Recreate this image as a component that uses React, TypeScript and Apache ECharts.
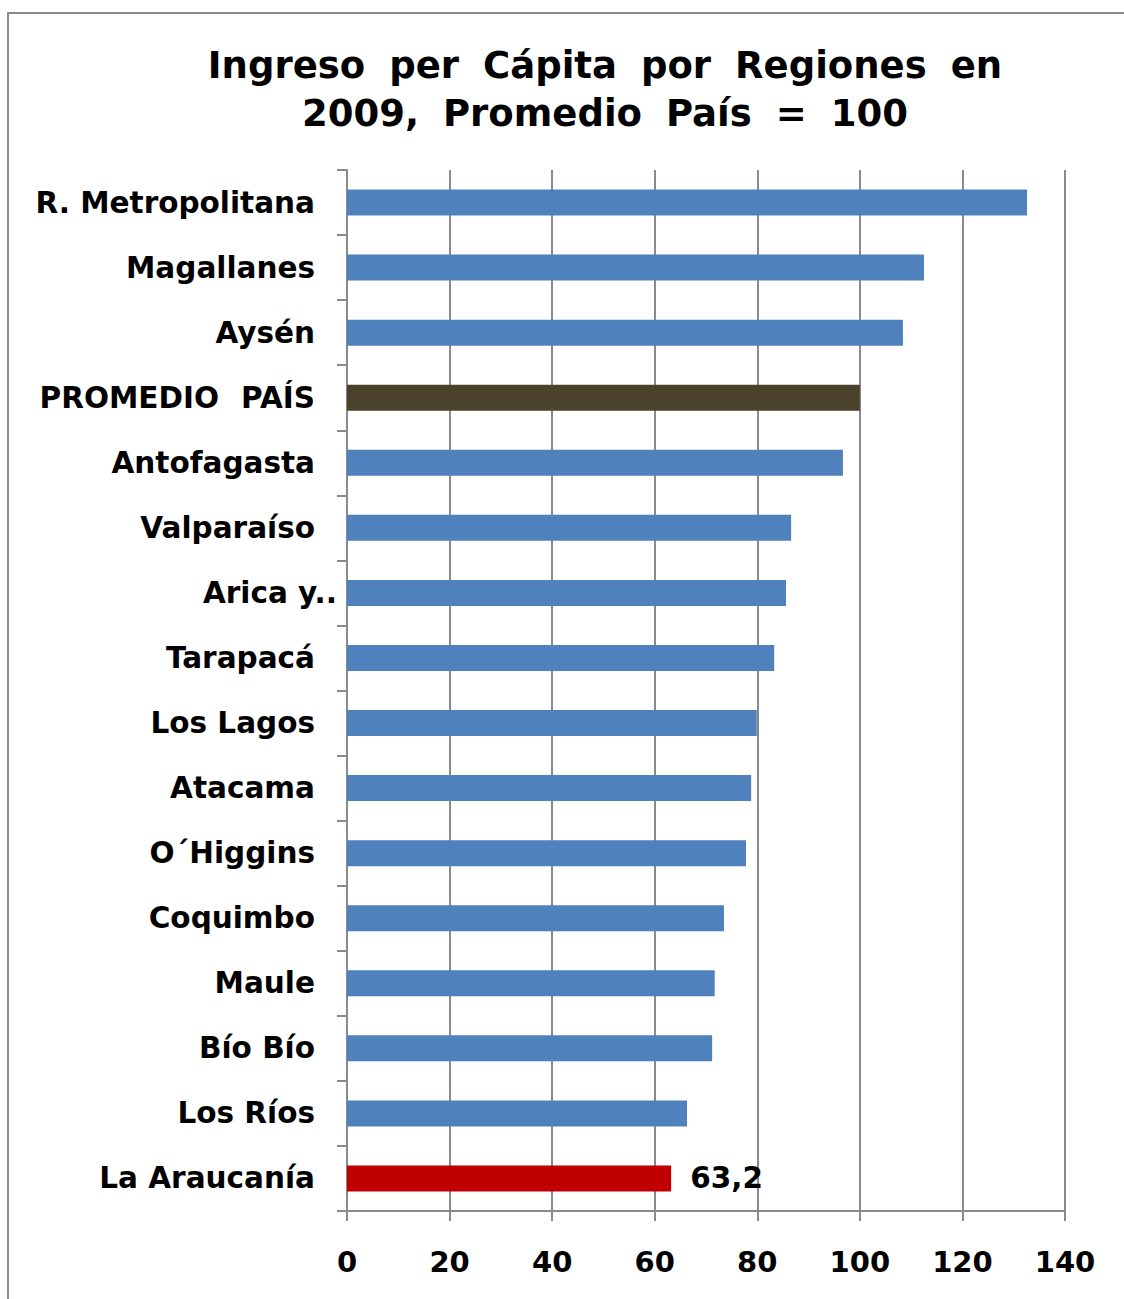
import React, { useEffect, useRef } from "react";
import * as echarts from "echarts";

const titleLines = ["Ingreso per Cápita por Regiones en", "2009, Promedio País = 100"];
const regions = [
  "R. Metropolitana",
  "Magallanes",
  "Aysén",
  "PROMEDIO PAÍS",
  "Antofagasta",
  "Valparaíso",
  "Arica y..",
  "Tarapacá",
  "Los Lagos",
  "Atacama",
  "O´Higgins",
  "Coquimbo",
  "Maule",
  "Bío Bío",
  "Los Ríos",
  "La Araucanía",
];
const values = [132.6, 112.5, 108.4, 100, 96.7, 86.6, 85.6, 83.3, 79.9, 78.8, 77.8, 73.5, 71.7, 71.2, 66.3, 63.2];
const labelledRegions = ["La Araucanía"];
const xTicks = { min: 0, max: 140, interval: 20 };

const BLUE = "#4f81bd";
const AVG = "#4a422a";
const RED = "#c00000";
const GRAY = "#8a8a8a";
const FONT = "DejaVu Sans, Verdana, sans-serif";
const LFS = 29.5;

export default function App() {
  const ref = useRef<HTMLDivElement>(null);
  useEffect(() => {
    if (!ref.current) return;
    const chart = echarts.init(ref.current, undefined, { renderer: "svg" });
    const data = regions.map((r, i) => {
      const color = r === "PROMEDIO PAÍS" ? AVG : r === "La Araucanía" ? RED : BLUE;
      const item: any = { value: values[i], itemStyle: { color } };
      if (labelledRegions.includes(r)) {
        item.label = {
          show: true,
          position: "right",
          distance: 19,
          fontFamily: FONT,
          fontWeight: "bold",
          fontSize: LFS,
          color: "#000",
          formatter: (p: any) => String(p.value).replace(".", ","),
        };
      }
      return item;
    });
    const titleText = titleLines.map((l) => l.split(" ").join("{s| }")).join("\n");
    const lab = { fontFamily: FONT, fontWeight: "bold", fontSize: LFS, color: "#000" };
    chart.setOption({
      animation: false,
      backgroundColor: "#fff",
      graphic: [
        {
          type: "rect",
          shape: { x: 8, y: 13, width: 1300, height: 1400 },
          style: { fill: "none", stroke: GRAY, lineWidth: 2 },
          silent: true,
        },
        {
          type: "text",
          x: 605,
          y: 41,
          style: {
            text: titleText,
            fontFamily: FONT,
            fontWeight: "bold",
            fontSize: 37,
            lineHeight: 48,
            fill: "#000",
            align: "center",
            verticalAlign: "top",
            rich: {
              s: { width: 24, fontFamily: FONT, fontWeight: "bold", fontSize: 37, lineHeight: 48 },
            },
          },
        },
      ],
      grid: { left: 347, right: 59, top: 170, bottom: 88, containLabel: false },
      xAxis: {
        type: "value",
        min: xTicks.min,
        max: xTicks.max,
        interval: xTicks.interval,
        axisLine: { show: true, lineStyle: { color: GRAY, width: 2 } },
        axisTick: { show: true, length: 10, lineStyle: { color: GRAY, width: 2 } },
        splitLine: { show: true, lineStyle: { color: GRAY, width: 2 } },
        axisLabel: { margin: 36, ...lab, fontSize: 29 },
      },
      yAxis: {
        type: "category",
        inverse: true,
        data: regions,
        axisLine: { show: true, lineStyle: { color: GRAY, width: 2 } },
        axisTick: { show: true, length: 10, lineStyle: { color: GRAY, width: 2 } },
        splitLine: { show: false },
        axisLabel: {
          margin: 10,
          ...lab,
          formatter: (v: string) => {
            if (v === "Arica y..") return `{b|${v}}`;
            if (v === "PROMEDIO PAÍS") {
              const [p1, p2] = v.split(" ");
              return `{a0|${p1}}{sp| }{a|${p2}}`;
            }
            return `{a|${v}}`;
          },
          rich: {
            a: { ...lab, padding: [0, 22, 0, 0] },
            a0: { ...lab },
            sp: { ...lab, width: 22 },
            b: { ...lab },
          },
        },
      },
      series: [
        {
          type: "bar",
          data,
          barWidth: 26,
        },
      ],
    });
    return () => chart.dispose();
  }, []);
  return (
    <div
      ref={ref}
      style={{ position: "absolute", left: 0, top: 0, width: 1124, height: 1299 }}
    />
  );
}
